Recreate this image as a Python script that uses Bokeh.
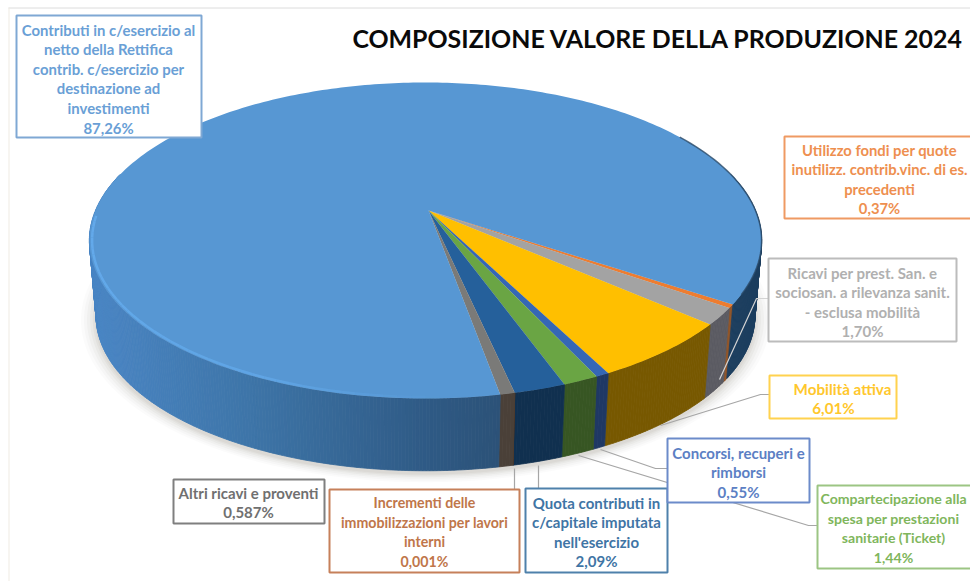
import numpy as np
from bokeh.plotting import figure
from bokeh.models import Range1d
from bokeh.core.properties import value
from bokeh.embed import file_html
from bokeh.resources import INLINE

title_text = "COMPOSIZIONE VALORE DELLA PRODUZIONE 2024"
categories = ["Utilizzo fondi", "Ricavi", "Mobilità attiva", "Concorsi", "Compartecipazione",
              "Quota contributi", "Incrementi", "Altri ricavi", "Contributi"]
values = [0.37, 1.70, 6.01, 0.55, 1.44, 2.09, 0.001, 0.587, 87.26]
top_colours = ["#ed7d31", "#a3a3a3", "#ffbf00", "#3567b5", "#6aa544", "#25609b", "#9e480e", "#7a7a78", "#5797d3"]
wall_colours = ["#8f5428", "#5b5b62", "#775800", "#1f3864", "#375623", "#10304f", "#5a3010", "#4a4038", None]

label_lines = [
    ["Utilizzo fondi per quote", "inutilizz. contrib.vinc. di es.", "precedenti", "0,37%"],
    ["Ricavi per prest. San. e", "sociosan. a rilevanza sanit.", "- esclusa mobilità", "1,70%"],
    ["Mobilità attiva", "6,01%"],
    ["Concorsi, recuperi e", "rimborsi", "0,55%"],
    ["Compartecipazione alla", "spesa per prestazioni", "sanitarie (Ticket)", "1,44%"],
    ["Quota contributi in", "c/capitale imputata", "nell'esercizio", "2,09%"],
    ["Incrementi delle", "immobilizzazioni per lavori", "interni", "0,001%"],
    ["Altri ricavi e proventi", "0,587%"],
    ["Contributi in c/esercizio al", "netto della Rettifica", "contrib. c/esercizio per",
     "destinazione ad", "investimenti", "87,26%"],
]

# ---- layout (in reference pixels) ----
W, H = 970, 581
p = figure(width=W, height=H, output_backend="svg", toolbar_location=None,
           x_range=Range1d(0, W), y_range=Range1d(H, 0), min_border=0,
           outline_line_color=None, background_fill_color="white", border_fill_color="white")
p.axis.visible = False
p.grid.visible = False

APEX_X, APEX_Y = 428.0, 210.0
RIM_SHIFT = -3.0
B, A, K = 330.0, 152.3, 0.19     # projected circle
FIRST_ANGLE = -33.5              # degrees, where the first slice starts, running clockwise
WALL_SCALE, WALL_Y = 0.98, 286.0


def rim(theta_deg, scale=1.0, y0=APEX_Y):
    t = np.radians(theta_deg)
    w = 1 + K * np.sin(t)
    return APEX_X + RIM_SHIFT + scale * B * np.cos(t) / w, y0 - scale * A * np.sin(t) / w


frac = np.array(values) / sum(values) * 360.0
starts = FIRST_ANGLE - np.concatenate([[0], np.cumsum(frac)[:-1]])
ends = starts - frac

# soft shadow under the pie
for grow, alpha in zip([0.045, 0.036, 0.027, 0.018, 0.010, 0.004], [0.03, 0.04, 0.05, 0.06, 0.07, 0.08]):
    sx, sy = rim(np.linspace(0, 360, 181), WALL_SCALE + grow, WALL_Y + 3)
    p.patch(sx, sy, fill_color="#8a8078", fill_alpha=alpha, line_color=None)

# side wall, drawn as narrow quads
qx, qy, qc = [], [], []
for s, e, wc in zip(starts, ends, wall_colours):
    n = max(int(abs(s - e) / 0.5), 1)
    th = np.linspace(s, e, n + 1)
    for a, b in zip(th[:-1], th[1:]):
        if np.sin(np.radians((a + b) / 2)) > 0.25:
            continue
        x1, y1 = rim(a)
        x2, y2 = rim(b)
        x3, y3 = rim(b, WALL_SCALE, WALL_Y)
        x4, y4 = rim(a, WALL_SCALE, WALL_Y)
        if wc is None:
            xm = (x1 + x2) / 2
            r = np.interp(xm, [88, 250, 430, 500, 740], [74, 62, 47, 44, 28])
            g = np.interp(xm, [88, 250, 430, 500, 740], [134, 117, 90, 82, 62])
            bl = np.interp(xm, [88, 250, 430, 500, 740], [197, 168, 133, 120, 94])
            col = "#%02x%02x%02x" % (int(r), int(g), int(bl))
        else:
            col = wc
        qx.append([x1, x2, x3, x4])
        qy.append([y1, y2, y3, y4])
        qc.append(col)
p.patches(qx, qy, fill_color=qc, line_color=qc, line_width=0.8)

# top face
for s, e, c in zip(starts, ends, top_colours):
    n = max(int(abs(s - e)), 2)
    th = np.linspace(s, e, n + 1)
    x, y = rim(th)
    p.patch(np.concatenate([[APEX_X], x]), np.concatenate([[APEX_Y], y]), fill_color=c, line_color=None)

# bevel: light rim on the front left, dark edge on the right
bx, by, ba = [], [], []
th = np.linspace(182, 272, 46)
for a, b in zip(th[:-1], th[1:]):
    xa, ya = rim(np.array([a, b]), 0.992)
    bx.append(list(xa))
    by.append(list(ya))
    ba.append(float(np.interp(a, [182, 195, 245, 272], [0.8, 0.8, 0.6, 0.0])))
p.multi_line(bx, by, line_color="#66aef0", line_alpha=ba, line_width=2.5)
dx, dy = rim(np.linspace(32, -30, 40))
p.line(dx, dy, line_color="#2b4a68", line_alpha=0.8, line_width=1.5)

# leader lines
LEADER = "#a6a6a6"
for xs, ys, col in [
    ([768, 756, 719], [298, 298, 379], "#d4d4d4"),
    ([769, 760, 660], [394, 394, 425], LEADER),
    ([667, 655, 600], [468, 468, 449], LEADER),
    ([817, 808, 578], [525, 525, 455], LEADER),
    ([538, 538], [465, 488], LEADER),
    ([514, 514], [468, 489], LEADER),
]:
    p.line(xs, ys, line_color=col, line_width=1.2)

# labels: left, right, top, bottom, border colour, text colour, first line y, line centres, font px
boxes = [
    (784, 975, 136, 218, "#ef9a63", "#ee8f4f", 149, [879, 879, 879, 879], 14.8),
    (768, 956, 258, 341, "#bcbcbc", "#b0b0b0", 272, [862, 862, 862, 862], 15.0),
    (769, 896, 375, 418, "#ffd24f", "#ffc72c", 388, [842, 833], 15.2),
    (525, 667, 488, 572, "#4f81ab", "#3f75a5", 502, [596, 596, 596, 596], 15.0),
    (329, 519, 489, 572, "#c6805a", "#c0764a", 502, [424, 424, 424, 424], 14.2),
    (173, 324, 479, 523, "#7f7f7f", "#707070", 492, [248, 248], 15.0),
    (16, 201, 15, 137, "#7fa8d4", "#6a9fd6", 29, [108] * 6, 14.9),
    (667, 809, 438, 502, "#6c8bca", "#5c7fc4", 452, [738, 738, 738], 15.0),
    (817, 975, 485, 568, "#9cc583", "#80b65c", 498, [893, 893, 893, 893], 14.1),
]
order = [0, 1, 2, 5, 6, 7, 8, 3, 4]
for (l, r, t, b, bc, tc, y0, cs, fs), idx in zip(boxes, order):
    p.quad(left=[l], right=[r], top=[t], bottom=[b], fill_color="white",
           line_color=bc, line_width=2)
    lines = label_lines[idx]
    ys = [y0 + round(i * 19.6, 1) for i in range(len(lines))]
    p.text(cs, ys, text=lines, text_font=value("Lato"), text_font_style="bold",
           text_font_size=f"{fs}px", text_color=tc, text_align="center", text_baseline="middle")

# title and the faint frame lines of the picture
p.text([657.5], [37], text=[title_text], text_font=value("Lato"), text_font_style="bold",
       text_font_size="24.9px", text_color="#0a0a0a", text_align="center", text_baseline="middle")
p.line([8, 970], [7.5, 7.5], line_color="#dcdcdc", line_width=1)
p.line([8.5, 8.5], [7, 581], line_color="#efebe3", line_width=1)

open("out.html", "w").write(file_html(p, INLINE))
